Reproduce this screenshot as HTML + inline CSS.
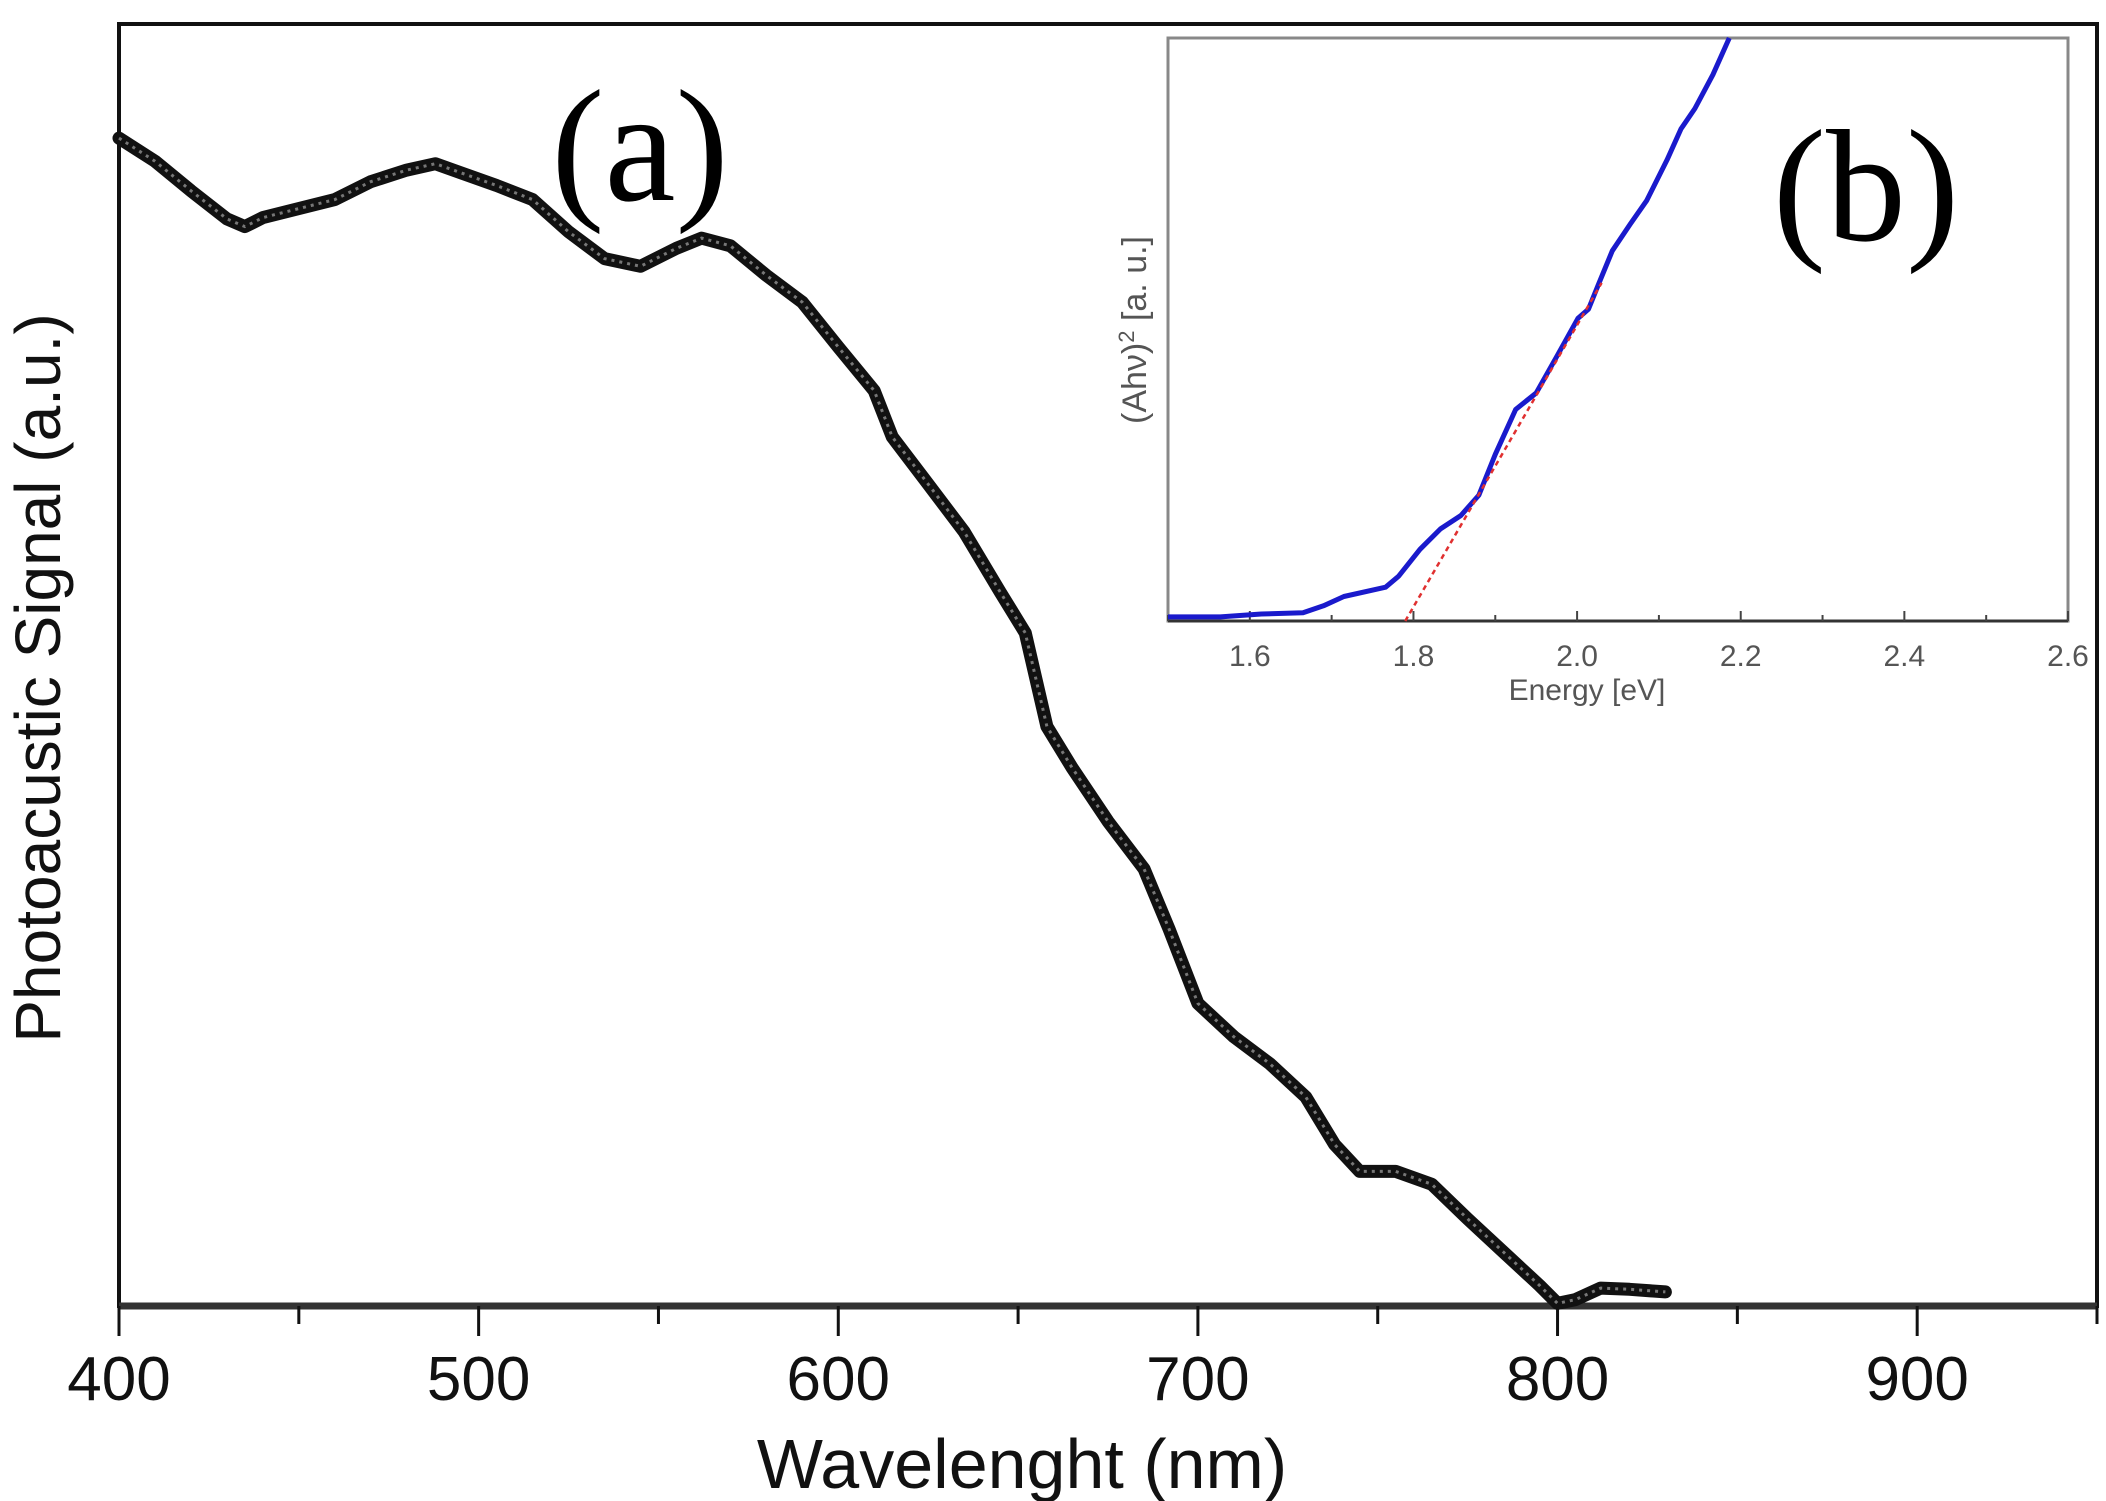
<!DOCTYPE html>
<html><head><meta charset="utf-8"><style>
html,body{margin:0;padding:0;background:#fff;}
svg{display:block;}
</style></head><body>
<svg id="chart" width="2106" height="1501" viewBox="0 0 2106 1501" xmlns="http://www.w3.org/2000/svg">
<rect width="2106" height="1501" fill="#fff"/>
<g id="main"></g>
<g id="inset"></g>
</svg>
<script>
// Main chart data
const wavelengths=[400,410,420,430,435,440,450,460,470,480,488,495,505,515,525,535,545,555,562,570,580,590,600,610,615,625,635,645,652,658,665,675,685,692,700,710,720,730,738,745,755,765,775,785,795,800,805,812,820,830];
const signal=[91.1,89.3,87.0,84.8,84.2,84.9,85.6,86.3,87.7,88.6,89.1,88.4,87.4,86.3,83.8,81.7,81.1,82.5,83.3,82.7,80.4,78.3,74.8,71.4,67.8,64.1,60.4,55.7,52.5,45.2,42.0,37.8,34.1,29.4,23.6,21.0,18.9,16.3,12.6,10.5,10.5,9.5,6.8,4.2,1.6,0.2,0.5,1.4,1.3,1.1];
const xTicks=[400,500,600,700,800,900];
const xMinorTicks=[450,550,650,750,850,950];
// Inset data
const energy=[1.5,1.564,1.614,1.665,1.690,1.715,1.766,1.782,1.808,1.833,1.858,1.880,1.900,1.925,1.950,1.976,2.001,2.014,2.026,2.043,2.065,2.085,2.110,2.127,2.144,2.166,2.186];
const absorb=[0.7,0.7,1.2,1.4,2.6,4.2,5.8,7.7,12.3,15.8,18.1,21.6,28.6,36.3,39.1,45.6,51.9,53.5,57.7,63.5,68.1,72.1,79.1,84.4,87.9,93.7,100];
const fitX=[1.79,2.03];
const fitY=[0,58];
const eTicks=[1.6,1.8,2.0,2.2,2.4,2.6];
const eMinor=[1.5,1.7,1.9,2.1,2.3,2.5];

const NS="http://www.w3.org/2000/svg";
function mk(tag,attrs,parent,text){const e=document.createElementNS(NS,tag);for(const k in attrs)e.setAttribute(k,attrs[k]);if(text!==undefined)e.textContent=text;parent.appendChild(e);return e;}

const main=document.getElementById('main');
const X0=119,X1=2097,Y0=1306,YT=24;
const xs=v=>X0+(v-400)*(X1-X0)/550;
const ys=v=>Y0-v*(Y0-YT)/100;

let f=mk('rect',{x:X0,y:YT,width:X1-X0,height:Y0-YT,fill:'none',stroke:'#111','stroke-width':4},main);


let xa=mk('line',{x1:X0,y1:Y0,x2:X1,y2:Y0,stroke:'#333','stroke-width':7},main);


xTicks.forEach(t=>{
  let l=mk('line',{x1:xs(t),y1:Y0,x2:xs(t),y2:Y0+30,stroke:'#111','stroke-width':3},main);
  
  
  let tx=mk('text',{x:xs(t),y:1400,'font-family':'"Liberation Sans",sans-serif','font-size':62,'text-anchor':'middle',fill:'#111'},main,String(t));
  
  
});
xMinorTicks.forEach(t=>{
  let l=mk('line',{x1:xs(t),y1:Y0,x2:xs(t),y2:Y0+18,stroke:'#111','stroke-width':3},main);
  
  
});
let xt=mk('text',{x:1022,y:1488,'font-family':'"Liberation Sans",sans-serif','font-size':70,'text-anchor':'middle',fill:'#111'},main,'Wavelenght (nm)');


let yt=mk('text',{x:0,y:0,'font-family':'"Liberation Sans",sans-serif','font-size':64,'text-anchor':'middle',fill:'#111',transform:'translate(60,678) rotate(-90)'},main,'Photoacustic Signal (a.u.)');


let d=wavelengths.map((w,i)=>(i?'L':'M')+xs(w).toFixed(1)+','+ys(signal[i]).toFixed(1)).join(' ');
let s1=mk('path',{d:d,fill:'none',stroke:'#111','stroke-width':13,'stroke-linejoin':'round','stroke-linecap':'round'},main);


let s2=mk('path',{d:d,fill:'none',stroke:'#777','stroke-width':3,'stroke-dasharray':'3 5'},main);


let la=mk('text',{x:640,y:200,'font-family':'"Liberation Serif",serif','font-size':160,'text-anchor':'middle',fill:'#000'},main,'(a)');



// Inset
const inset=document.getElementById('inset');
const IX0=1168,IX1=2068,IY0=621,IYT=38;
const ex=v=>IX0+(v-1.5)*(IX1-IX0)/1.1;
const ey=v=>IY0-v*(IY0-IYT)/100;
let bg=mk('rect',{x:IX0,y:IYT,width:IX1-IX0,height:IY0-IYT,fill:'#fff',stroke:'#888','stroke-width':3},inset);


let ib=mk('line',{x1:IX0,y1:IY0,x2:IX1,y2:IY0,stroke:'#333','stroke-width':3},inset);


eTicks.forEach(t=>{
  let l=mk('line',{x1:ex(t),y1:IY0,x2:ex(t),y2:IY0-10,stroke:'#444','stroke-width':2},inset);
  
  
  let tx=mk('text',{x:ex(t),y:666,'font-family':'"Liberation Sans",sans-serif','font-size':30,'text-anchor':'middle',fill:'#555'},inset,t.toFixed(1));
  
  
});
eMinor.forEach(t=>{
  let l=mk('line',{x1:ex(t),y1:IY0,x2:ex(t),y2:IY0-6,stroke:'#444','stroke-width':2},inset);
  
  
});
let et=mk('text',{x:1587,y:700,'font-family':'"Liberation Sans",sans-serif','font-size':30,'text-anchor':'middle',fill:'#555'},inset,'Energy [eV]');


let iyt=mk('text',{x:0,y:0,'font-family':'"Liberation Sans",sans-serif','font-size':34,'text-anchor':'middle',fill:'#555',transform:'translate(1146,330) rotate(-90)'},inset);


iyt.innerHTML='(Ah\u03bd)<tspan dy="-12" font-size="22">2</tspan><tspan dy="12"> [a. u.]</tspan>';
let id=energy.map((e,i)=>(i?'L':'M')+ex(e).toFixed(1)+','+ey(absorb[i]).toFixed(1)).join(' ');
let is=mk('path',{d:id,fill:'none',stroke:'#1a1acc','stroke-width':5,'stroke-linejoin':'round'},inset);


let fl=mk('line',{x1:ex(fitX[0]),y1:ey(fitY[0]),x2:ex(fitX[1]),y2:ey(fitY[1]),stroke:'#e03030','stroke-width':2.5,'stroke-dasharray':'5 4'},inset);


let lb=mk('text',{x:1866,y:240,'font-family':'"Liberation Serif",serif','font-size':160,'text-anchor':'middle',fill:'#000'},inset,'(b)');


</script>
</body></html>
